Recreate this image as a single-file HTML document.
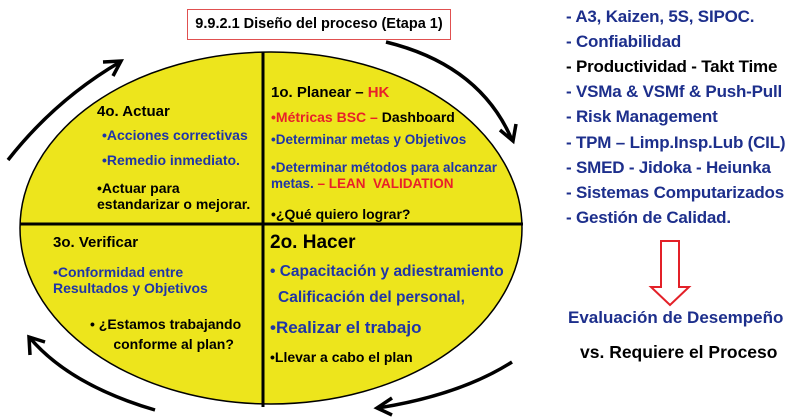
<!DOCTYPE html>
<html><head><meta charset="utf-8"><style>
body{margin:0;width:800px;height:420px;background:#fff;position:relative;overflow:hidden;font-family:"Liberation Sans",Arial,sans-serif;font-weight:bold}
.t{position:absolute;white-space:nowrap;font-size:14px;line-height:16px}
.b{color:#1f35a8}.r{color:#e8202a}.k{color:#000}
.l{position:absolute;left:566px;font-size:17px;color:#1d2f8c;white-space:nowrap;line-height:20px;letter-spacing:-0.2px}
</style></head><body>
<svg width="800" height="420" style="position:absolute;left:0;top:0">
<ellipse cx="271" cy="228" rx="251" ry="176" fill="#ede51c" stroke="#000" stroke-width="1.5"/>
<line x1="263" y1="52" x2="263" y2="407" stroke="#000" stroke-width="3"/>
<line x1="20" y1="224" x2="523" y2="224" stroke="#000" stroke-width="3"/>
<g fill="none" stroke="#000" stroke-width="3.5">
<path d="M8 160 Q55 100 120 62"/><path d="M103 62 L121 61 L113 76"/>
<path d="M386 42 Q480 65 512 140"/><path d="M500 130 L513 141 L516 124"/>
<path d="M512 362 Q460 395 378 408"/><path d="M392 398 L377 408 L392 415"/>
<path d="M155 410 Q70 385 30 338"/><path d="M30 355 L29 337 L45 342"/>
</g>
<path d="M661 241 L679 241 L679 287 L689 287 L670 305 L651 287 L661 287 Z" fill="#fff" stroke="#e32028" stroke-width="2"/>
</svg>
<div style="position:absolute;left:187px;top:9px;width:262px;height:29px;border:1.5px solid #e05050;background:#fff;font-size:14.5px;text-align:center;line-height:29px">9.9.2.1 Diseño del proceso (Etapa 1)</div>

<div class="t k" style="left:97px;top:104px;font-size:15px">4o. Actuar</div>
<div class="t b" style="left:102px;top:127px">•Acciones correctivas</div>
<div class="t b" style="left:102px;top:152px">•Remedio inmediato.</div>
<div class="t k" style="left:97px;top:180px">•Actuar para<br>estandarizar o mejorar.</div>

<div class="t k" style="left:271px;top:85px;font-size:15px">1o. Planear – <span class="r">HK</span></div>
<div class="t" style="left:271px;top:109px"><span class="r">•Métricas BSC – </span><span class="k">Dashboard</span></div>
<div class="t b" style="left:271px;top:132px;font-size:13.5px">•Determinar metas y Objetivos</div>
<div class="t b" style="left:271px;top:160px;font-size:13.5px">•Determinar métodos para alcanzar<br>metas. <span class="r">– LEAN&nbsp; VALIDATION</span></div>
<div class="t k" style="left:271px;top:206px">•¿Qué quiero lograr?</div>

<div class="t k" style="left:53px;top:235px;font-size:15px">3o. Verificar</div>
<div class="t b" style="left:53px;top:264px">•Conformidad entre<br>Resultados y Objetivos</div>
<div class="t k" style="left:90px;top:314px;line-height:20px">• ¿Estamos trabajando<br>&nbsp;&nbsp;&nbsp;&nbsp;&nbsp;&nbsp;conforme al plan?</div>

<div class="t k" style="left:270px;top:232px;font-size:19px;line-height:22px">2o. Hacer</div>
<div class="t b" style="left:270px;top:264px;font-size:15.5px">• Capacitación y adiestramiento</div>
<div class="t b" style="left:278px;top:290px;font-size:15.5px">Calificación del personal,</div>
<div class="t b" style="left:270px;top:320px;font-size:17px">•Realizar el trabajo</div>
<div class="t k" style="left:270px;top:349px">•Llevar a cabo el plan</div>

<div class="l" style="top:7px">- A3, Kaizen, 5S, SIPOC.</div>
<div class="l" style="top:32px">- Confiabilidad</div>
<div class="l k" style="top:57px;color:#000">- Productividad - Takt Time</div>
<div class="l" style="top:82px">- VSMa &amp; VSMf &amp; Push-Pull</div>
<div class="l" style="top:107px">- Risk Management</div>
<div class="l" style="top:133px">- TPM – Limp.Insp.Lub (CIL)</div>
<div class="l" style="top:158px">- SMED - Jidoka - Heiunka</div>
<div class="l" style="top:183px">- Sistemas Computarizados</div>
<div class="l" style="top:208px">- Gestión de Calidad.</div>
<div class="l" style="left:568px;top:308px;font-size:17px;letter-spacing:0">Evaluación de Desempeño</div>
<div class="l" style="left:580px;top:342px;font-size:17.5px;color:#000;letter-spacing:0">vs. Requiere el Proceso</div>
</body></html>
